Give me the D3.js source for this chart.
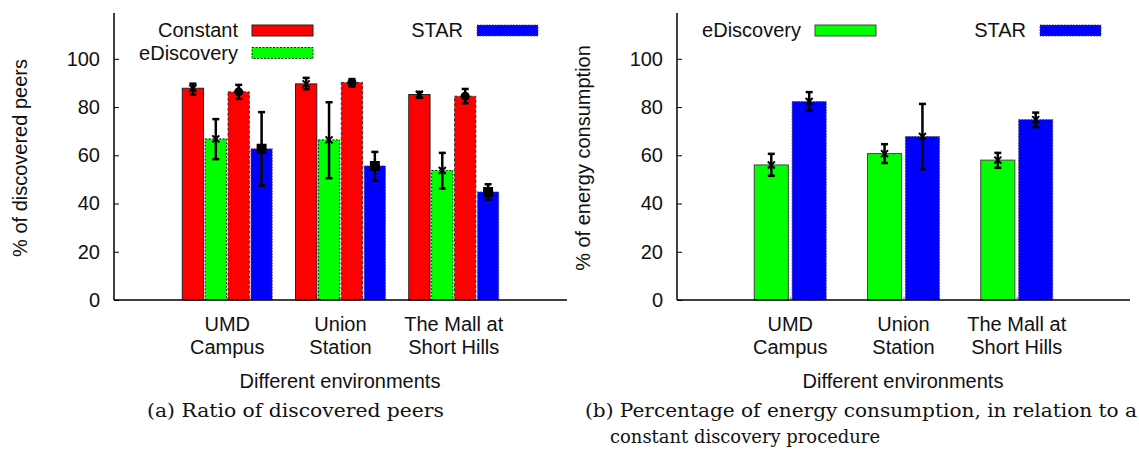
<!DOCTYPE html>
<html>
<head>
<meta charset="utf-8">
<script src="https://cdn.jsdelivr.net/npm/d3@7"></script>
<style>
  body { margin: 0; background: #fff; }
  text { font-family: "Liberation Sans", Arial, sans-serif; fill: #111; }
  text.caption { font-family: "DejaVu Serif", "Liberation Serif", serif; }
</style>
</head>
<body>
<script>
// categories (x tick labels, two lines each)
var categories = [["UMD", "Campus"], ["Union", "Station"], ["The Mall at", "Short Hills"]];
var yTicks = [0, 20, 40, 60, 80, 100];

// (a) ratio of discovered peers
var peersConstant     = [87.8, 89.6, 85.2];
var peersConstantLo   = [85.2, 87.4, 83.8];
var peersConstantHi   = [89.7, 92.1, 86.3];
var peersEDisc        = [66.8, 66.4, 53.7];
var peersEDiscLo      = [58.4, 50.5, 46.2];
var peersEDiscHi      = [75.0, 82.0, 61.0];
var peersConstant2    = [86.3, 90.2, 84.5];
var peersConstant2Lo  = [83.4, 88.5, 81.6];
var peersConstant2Hi  = [89.2, 91.6, 87.5];
var peersStar         = [62.7, 55.6, 44.8];
var peersStarLo       = [47.4, 49.5, 41.6];
var peersStarHi       = [77.9, 61.4, 48.0];

// (b) energy consumption
var energyEDisc   = [56.0, 60.7, 58.0];
var energyEDiscLo = [51.5, 56.8, 54.8];
var energyEDiscHi = [60.6, 64.6, 61.0];
var energyStar    = [82.3, 67.8, 74.8];
var energyStarLo  = [78.6, 54.2, 71.7];
var energyStarHi  = [86.2, 81.3, 77.7];

var svg = d3.select("body").append("svg")
    .attr("width", 1139)
    .attr("height", 457);

// draws one gnuplot-like histogram panel
function drawPanel(p) {
  var g = svg.append("g");

  var x = d3.scaleLinear().domain([-1, 3]).range([p.left, p.left + 453]);
  var y = d3.scaleLinear().domain([0, 119]).range([300, 13]);
  var inner = d3.scaleBand()
      .domain(d3.range(p.series.length))
      .range([-p.groupWidth / 2, p.groupWidth / 2])
      .paddingInner(p.pad);

  // bars
  p.series.forEach(function(s, si) {
    g.selectAll(".bar" + si)
      .data(s.values)
      .enter().append("rect")
        .attr("x", function(d, i) { return x(i) + inner(si); })
        .attr("y", function(d) { return y(d); })
        .attr("width", inner.bandwidth())
        .attr("height", function(d) { return y(0) - y(d); })
        .attr("fill", s.color)
        .attr("stroke", s.stroke)
        .attr("stroke-width", 1)
        .attr("stroke-dasharray", s.dash);

    // error bars
    var eb = g.selectAll(".err" + si)
      .data(s.values)
      .enter().append("g")
        .attr("transform", function(d, i) {
          return "translate(" + (x(i) + inner(si) + inner.bandwidth() / 2) + ",0)";
        });
    eb.append("line")
      .attr("y1", function(d, i) { return y(s.lo[i]); })
      .attr("y2", function(d, i) { return y(s.hi[i]); })
      .attr("stroke", "#000").attr("stroke-width", 2.5);
    eb.append("line")
      .attr("x1", -3.5).attr("x2", 3.5)
      .attr("y1", function(d, i) { return y(s.lo[i]); })
      .attr("y2", function(d, i) { return y(s.lo[i]); })
      .attr("stroke", "#000").attr("stroke-width", 2.5);
    eb.append("line")
      .attr("x1", -3.5).attr("x2", 3.5)
      .attr("y1", function(d, i) { return y(s.hi[i]); })
      .attr("y2", function(d, i) { return y(s.hi[i]); })
      .attr("stroke", "#000").attr("stroke-width", 2.5);
    eb.append("path")
      .attr("d", function(d) {
        var cy = y(d);
        if (s.marker == "square") return "M-4," + (cy - 4) + "h8v8h-8z";
        if (s.marker == "circle") return d3.symbol(d3.symbolCircle, 40)();
        return "M-3.5," + (cy - 3.5) + "L3.5," + (cy + 3.5) + "M-3.5," + (cy + 3.5) + "L3.5," + (cy - 3.5);
      })
      .attr("transform", function(d) { return s.marker == "circle" ? "translate(0," + y(d) + ")" : null; })
      .attr("fill", "#000")
      .attr("stroke", "#000").attr("stroke-width", 2);
  });

  // axes: only left and bottom border, ticks inside
  var yAxis = d3.axisLeft(y).tickValues(yTicks).tickSize(-5).tickPadding(14);
  var ya = g.append("g").attr("transform", "translate(" + p.left + ",0)").call(yAxis);
  ya.select(".domain").attr("d", "M0,13V300").attr("stroke", "#000").attr("stroke-width", 1.5);
  ya.selectAll(".tick line").attr("stroke", "#000");
  ya.selectAll(".tick text").attr("font-size", 20).attr("fill", "#111")
      .attr("font-family", "Liberation Sans, Arial, sans-serif");

  var xAxis = d3.axisBottom(x).tickValues([0, 1, 2]).tickSize(-3).tickFormat("");
  var xa = g.append("g").attr("transform", "translate(0,300)").call(xAxis);
  xa.select(".domain").attr("d", "M" + p.left + ",0H" + (p.left + 453)).attr("stroke", "#000").attr("stroke-width", 1.5);
  xa.selectAll(".tick line").attr("stroke", "#666");

  // category labels
  categories.forEach(function(c, i) {
    var t = g.append("text")
      .attr("x", x(i)).attr("y", 331)
      .attr("text-anchor", "middle")
      .attr("font-size", 20);
    t.append("tspan").attr("x", x(i)).text(c[0]);
    t.append("tspan").attr("x", x(i)).attr("dy", 23).text(c[1]);
  });

  g.append("text")
    .attr("x", p.left + 226).attr("y", 388)
    .attr("text-anchor", "middle")
    .attr("font-size", 20)
    .text("Different environments");

  g.append("text")
    .attr("transform", "translate(" + p.ylabelX + "," + 158 + ") rotate(-90)")
    .attr("text-anchor", "middle")
    .attr("font-size", 20)
    .text(p.ylabel);

  // legend
  p.series.forEach(function(s) {
    if (!s.name) return;
    var lx = p.left + (s.col == 0 ? 124 : 349);
    var ly = 25 + s.row * 22.5;
    g.append("text")
      .attr("x", lx).attr("y", ly + 12)
      .attr("text-anchor", "end")
      .attr("font-size", 20)
      .text(s.name);
    g.append("rect")
      .attr("x", lx + 14).attr("y", ly)
      .attr("width", 61).attr("height", 11)
      .attr("fill", s.color)
      .attr("stroke", s.stroke)
      .attr("stroke-width", 1)
      .attr("stroke-dasharray", s.dash);
  });

  // caption
  p.caption.forEach(function(c) {
    g.append("text")
      .attr("class", "caption")
      .attr("x", c.x).attr("y", c.y)
      .attr("font-size", 19)
      .attr("textLength", c.w)
      .attr("lengthAdjust", "spacingAndGlyphs")
      .text(c.text);
  });
}

drawPanel({
  left: 114,
  groupWidth: 90,
  pad: 0.07,
  ylabel: "% of discovered peers",
  ylabelX: 27,
  series: [
    {name: "Constant", values: peersConstant, lo: peersConstantLo, hi: peersConstantHi,
     color: "#ff0000", stroke: "#222", dash: null, marker: "cross", row: 0, col: 0},
    {name: "eDiscovery", values: peersEDisc, lo: peersEDiscLo, hi: peersEDiscHi,
     color: "#00ff00", stroke: "#222", dash: "2,1.5", marker: "cross", row: 1, col: 0},
    {name: "", values: peersConstant2, lo: peersConstant2Lo, hi: peersConstant2Hi,
     color: "#ff0000", stroke: "#333", dash: "3,2", marker: "circle"},
    {name: "STAR", values: peersStar, lo: peersStarLo, hi: peersStarHi,
     color: "#0000ff", stroke: "#555", dash: "1.5,1.5", marker: "square", row: 0, col: 1}
  ],
  caption: [{text: "(a) Ratio of discovered peers", x: 147, y: 417, w: 297}]
});

drawPanel({
  left: 677,
  groupWidth: 72,
  pad: 0.1,
  ylabel: "% of energy consumption",
  ylabelX: 590,
  series: [
    {name: "eDiscovery", values: energyEDisc, lo: energyEDiscLo, hi: energyEDiscHi,
     color: "#00ff00", stroke: "#444", dash: null, marker: "cross", row: 0, col: 0},
    {name: "STAR", values: energyStar, lo: energyStarLo, hi: energyStarHi,
     color: "#0000ff", stroke: "#444", dash: "1.5,1.5", marker: "cross", row: 0, col: 1}
  ],
  caption: [
    {text: "(b) Percentage of energy consumption, in relation to a", x: 585, y: 417, w: 552},
    {text: "constant discovery procedure", x: 610, y: 443, w: 270}
  ]
});
</script>
</body>
</html>
